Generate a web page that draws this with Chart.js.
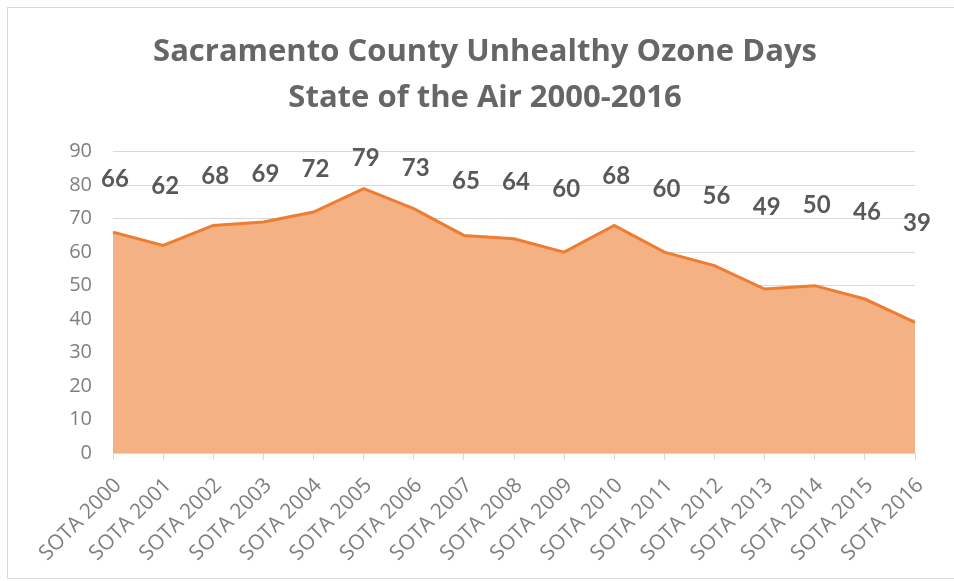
<!DOCTYPE html>
<html>
<head>
<meta charset="utf-8">
<script src="https://cdn.jsdelivr.net/npm/chart.js@4"></script>
<style>
  body { margin: 0; background: #fff; }
  #wrap { position: relative; width: 954px; height: 581px; overflow: hidden; }
  #frame { position: absolute; left: 7px; top: 7px; width: 1000px; height: 572px; border: 1px solid #d9d9d9; box-sizing: border-box; }
  canvas { position: absolute; left: 0; top: 0; }
</style>
</head>
<body>
<div id="wrap">
  <div id="frame"></div>
  <canvas id="ozoneChart" width="954" height="581"></canvas>
</div>
<script>
const years = ['SOTA 2000', 'SOTA 2001', 'SOTA 2002', 'SOTA 2003', 'SOTA 2004', 'SOTA 2005', 'SOTA 2006', 'SOTA 2007', 'SOTA 2008',
  'SOTA 2009', 'SOTA 2010', 'SOTA 2011', 'SOTA 2012', 'SOTA 2013', 'SOTA 2014', 'SOTA 2015', 'SOTA 2016'];
const ozoneDays = [66, 62, 68, 69, 72, 79, 73, 65, 64, 60, 68, 60, 56, 49, 50, 46, 39];
const titleLines = ['Sacramento County Unhealthy Ozone Days', 'State of the Air 2000-2016'];

// labels sit in a band above the area, like Excel placed them
const valueLabels = {
  id: 'valueLabels',
  afterDatasetsDraw(chart) {
    const { ctx, scales: { y } } = chart, meta = chart.getDatasetMeta(0);
    ctx.save();
    ctx.font = 'bold 24px Lato';
    ctx.fillStyle = '#595959';
    ctx.textAlign = 'center'; ctx.textBaseline = 'middle';
    meta.data.forEach((pt, i) => {
      const v = ozoneDays[i];
      ctx.fillText(v, pt.x + 2, y.getPixelForValue(0.49 * v + 49.4));
    });
    ctx.restore();
  }
};

new Chart(document.getElementById('ozoneChart').getContext('2d'), {
  type: 'line',
  data: { labels: years, datasets: [{ data: ozoneDays, borderColor: '#ED7D31', backgroundColor: '#F4B183', fill: 'origin', borderWidth: 3, pointRadius: 0, tension: 0 }] },
  options: {
    responsive: false, animation: false,
    layout: { padding: { left: 55, right: 39, top: 0, bottom: 0 } },
    plugins: {
      legend: { display: false }, tooltip: { enabled: false },
      title: { display: true, text: titleLines, color: '#666666', font: { family: 'Open Sans', size: 31, weight: 'bold', lineHeight: 1.48 }, padding: { top: 29, bottom: 31 } }
    },
    scales: {
      x: {
        grid: { drawOnChartArea: false, color: '#d9d9d9', tickLength: 7 },
        border: { color: '#d9d9d9', width: 1 },
        ticks: { color: '#7f7f7f', font: { family: 'Open Sans', size: 21 }, maxRotation: 45, minRotation: 45, padding: 13, labelOffset: 5, autoSkip: false },
        afterFit(s) { s.height = 128; }
      },
      y: {
        min: 0, max: 90,
        grid: { color: '#d9d9d9', drawTicks: false },
        border: { display: false },
        ticks: { stepSize: 10, color: '#7f7f7f', font: { family: 'Open Sans', size: 20 }, padding: 21 },
        afterFit(s) { s.width = 58; }
      }
    }
  },
  plugins: [valueLabels]
});
</script>
</body>
</html>
